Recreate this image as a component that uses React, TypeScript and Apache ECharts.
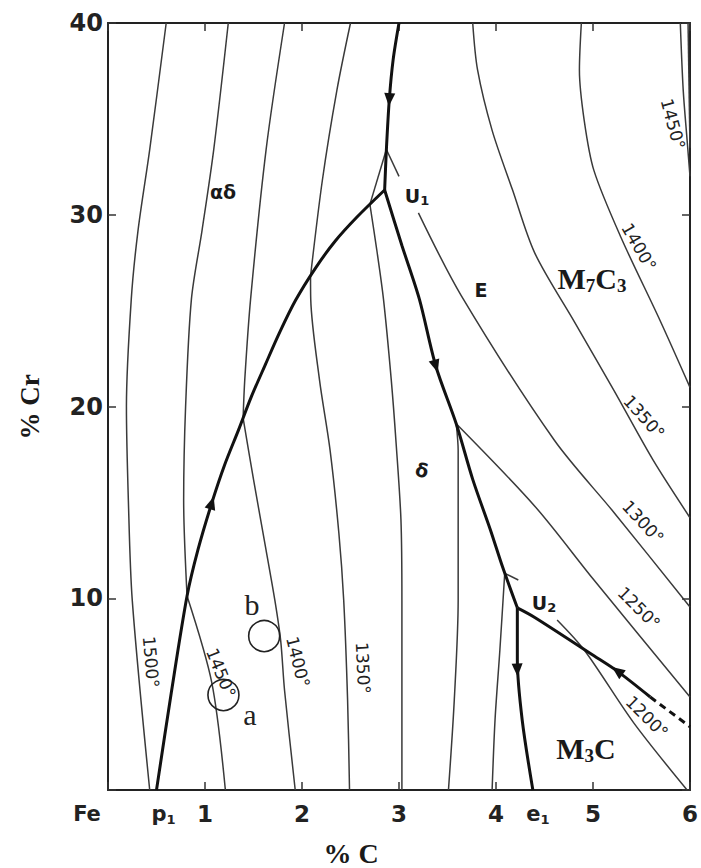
import React, { useEffect, useRef } from 'react';
import * as echarts from 'echarts';

// ---- data (x = % C, y = % Cr) ----
const xTicks = [0, 1, 2, 3, 4, 5, 6];
const yTicks = [0, 10, 20, 30, 40];

// heavy monovariant lines
const heavyP1U1 = [[0.5, 0], [0.652, 5.06], [0.815, 10.12], [0.927, 12.52], [1.07, 14.97], [1.202, 16.95], [1.345, 18.77], [1.477, 20.5], [1.62, 22.16], [1.772, 23.89], [1.935, 25.55], [2.139, 27.22], [2.343, 28.63], [2.567, 29.88], [2.852, 31.29]];
const heavyTopU1 = [[3.0, 40], [2.94, 38.1], [2.9, 36.0], [2.87, 33.4], [2.852, 31.29]];
const heavyU1U2 = [[2.852, 31.29], [3.03, 28.4], [3.21, 25.6], [3.38, 22.1], [3.59, 19.1], [3.76, 16.2], [3.94, 13.6], [4.07, 11.6], [4.22, 9.5]];
const heavyU2E1 = [[4.22, 9.5], [4.22, 6.8], [4.27, 3.65], [4.38, 0]];
const heavyU2Right = [[4.22, 9.5], [4.4, 9.0], [5.01, 7.0], [5.25, 6.2], [5.59, 4.85]];
const heavyDashed = [[5.59, 4.85], [6.0, 3.3]];

// liquidus isotherms
const iso1500 = [[0.6, 40], [0.43, 33.4], [0.31, 29.2], [0.24, 25.6], [0.19, 20.0], [0.21, 15.1], [0.25, 9.9], [0.43, 0]];
const iso1450Delta = [[1.24, 40], [1.09, 33.4], [0.97, 29.2], [0.86, 25.6], [0.8, 20.0], [0.78, 15.1], [0.815, 10.12]];
const iso1450Gamma = [[0.815, 10.12], [1.07, 5.6], [1.21, 0]];
const iso1400Delta = [[1.82, 40], [1.63, 33.4], [1.47, 25.6], [1.41, 21.4], [1.393, 19.4]];
const iso1400Gamma = [[1.393, 19.4], [1.5, 16.2], [1.63, 12.5], [1.72, 9.9], [1.78, 7.8], [1.82, 5.2], [1.93, 0]];
const iso1350Delta = [[2.5, 40], [2.36, 36.5], [2.21, 31.8], [2.088, 26.8]];
const iso1350Gamma = [[2.088, 26.8], [2.09, 25.6], [2.18, 21.4], [2.29, 17.7], [2.38, 13.4], [2.43, 9.9], [2.47, 4.7], [2.49, 0]];
const iso1300Tri = [[2.87, 33.4], [2.7, 30.54]];
const iso1300Spur = [[2.87, 33.4], [3.0, 32.0]];
const iso1300Gamma = [[2.7, 30.54], [2.77, 28.2], [2.84, 25.6], [2.92, 21.4], [2.97, 18.1], [3.02, 14.1], [3.03, 9.9], [3.03, 0]];
const iso1250Gamma = [[3.59, 19.1], [3.61, 17.7], [3.61, 9.9], [3.57, 4.7], [3.51, 0]];
const iso1200Gamma = [[4.09, 11.3], [4.04, 7.3], [3.99, 3.65], [3.96, 0]];
const iso1200Spur = [[4.09, 11.3], [4.23, 10.95]];
const iso1200Carbide = [[4.63, 8.87], [4.91, 7.3], [5.42, 3.5], [5.97, 0]];
const iso1250Carbide = [[3.59, 19.1], [4.4, 14.8], [5.01, 10.95], [6.0, 4.85]];
const iso1300Carbide = [[3.2, 30.1], [3.64, 25.8], [4.6, 18.25], [5.22, 14.45], [6.0, 9.54]];
const iso1350Carbide = [[3.76, 40], [3.81, 37.55], [3.96, 34.4], [4.17, 31.3], [4.4, 28.0], [4.81, 24.4], [5.22, 20.8], [5.62, 17.2], [6.0, 14.2]];
const iso1400Carbide = [[4.88, 40], [4.86, 37.55], [4.91, 34.9], [5.01, 32.3], [5.29, 28.8], [5.69, 24.5], [6.0, 21.0]];
const iso1450Carbide = [[5.9, 40], [5.93, 36.5], [5.97, 33.9], [6.0, 32.0]];
const iso1450CarbideB = [[5.98, 40], [6.0, 33.5]];

// arrow heads on the monovariant lines
const arrowPoints = [[2.9, 36.0], [1.07, 14.97], [3.38, 22.1], [4.22, 6.26], [5.25, 6.21]];
const arrowAngles = [176, -17, 197, 182, 54];

// experimental alloys a and b
const alloyPoints = [[1.19, 4.95, 'a'], [1.61, 8.03, 'b']];

// special points on the Fe-C side
const sidePoints = [[0, 'Fe'], [0.5, 'p1'], [4.38, 'e1']];

export default function App() {
  const ref = useRef<HTMLDivElement>(null);

  useEffect(() => {
    const chart = echarts.init(ref.current!, null, { renderer: 'svg' });

    const HEAVY = { color: '#111', width: 3 };
    const THIN = { color: '#3a3a3a', width: 1.5 };
    const ln = (data: number[][], style: any, extra: any = {}) => ({
      type: 'line', data, symbol: 'none', smooth: 0.3, silent: true,
      lineStyle: { ...style }, z: 2, ...extra,
    });

    const thinSets = [iso1500, iso1450Delta, iso1450Gamma, iso1400Delta, iso1400Gamma, iso1350Delta, iso1350Gamma,
      iso1300Tri, iso1300Spur, iso1300Gamma, iso1250Gamma, iso1200Gamma, iso1200Spur, iso1200Carbide,
      iso1250Carbide, iso1300Carbide, iso1350Carbide, iso1400Carbide, iso1450Carbide, iso1450CarbideB];
    const heavySets = [heavyP1U1, heavyTopU1, heavyU1U2, heavyU2E1, heavyU2Right];

    const sideOffsets: Record<string, number[]> = { Fe: [-21, 0], p1: [7, 0], e1: [5, 0] };
    const sideText: Record<string, string> = { Fe: '{m|Fe}', p1: '{m|p}{s|1}', e1: '{m|e}{s|1}' };

    const axisFont = { fontFamily: 'DejaVu Sans', fontWeight: 'bold', color: '#222' };
    const frame = { show: true, onZero: false, lineStyle: { color: '#222', width: 2 } };
    const tick = { show: true, inside: true, length: 8, lineStyle: { color: '#333', width: 1.5 } };

    const isoLabel = (text: string, x: number, y: number, deg: number) => ({
      type: 'text', x, y, rotation: -deg * Math.PI / 180, silent: true, z: 10,
      style: { text, fill: '#222', font: '17px "DejaVu Sans"', align: 'center', verticalAlign: 'middle', textAlign: 'center', textVerticalAlign: 'middle' },
    });
    const richLabel = (x: number, y: number, text: string, rich: any, rot = 0) => ({
      type: 'text', x, y, rotation: rot, silent: true, z: 10,
      style: { text, rich, fill: '#1a1a1a', align: 'center', verticalAlign: 'middle', textAlign: 'center', textVerticalAlign: 'middle' },
    });
    const serifRich = {
      m: { fontFamily: 'Liberation Serif', fontWeight: 'bold', fontSize: 30, lineHeight: 34, fill: '#1a1a1a' },
      s: { fontFamily: 'Liberation Serif', fontWeight: 'bold', fontSize: 19, lineHeight: 19, verticalAlign: 'bottom', fill: '#1a1a1a' },
    };
    const sansRich = {
      m: { fontFamily: 'DejaVu Sans', fontWeight: 'bold', fontSize: 19, lineHeight: 22, fill: '#1a1a1a' },
      s: { fontFamily: 'DejaVu Sans', fontWeight: 'bold', fontSize: 13, lineHeight: 13, verticalAlign: 'bottom', fill: '#1a1a1a' },
    };

    const option: any = {
      animation: false,
      backgroundColor: '#fff',
      grid: { left: 108, right: 4, top: 23, bottom: 78, containLabel: false },
      xAxis: [
        {
          type: 'value', min: xTicks[0], max: xTicks[xTicks.length - 1], interval: 1, position: 'bottom',
          axisLine: frame, axisTick: tick, splitLine: { show: false },
          axisLabel: { ...axisFont, fontSize: 23, margin: 12, formatter: (v: number) => (v === 0 ? '' : String(v)) },
        },
        {
          type: 'value', min: xTicks[0], max: xTicks[xTicks.length - 1], interval: 1, position: 'top',
          axisLine: frame, axisTick: tick, splitLine: { show: false }, axisLabel: { show: false },
        },
      ],
      yAxis: [
        {
          type: 'value', min: yTicks[0], max: yTicks[yTicks.length - 1], interval: 10, position: 'left',
          axisLine: frame, axisTick: tick, splitLine: { show: false },
          axisLabel: { ...axisFont, fontSize: 24, margin: 5, formatter: (v: number) => (v === 0 ? '' : String(v)) },
        },
        {
          type: 'value', min: yTicks[0], max: yTicks[yTicks.length - 1], interval: 10, position: 'right',
          axisLine: frame, axisTick: tick, splitLine: { show: false }, axisLabel: { show: false },
        },
      ],
      series: [
        ...thinSets.map((d) => ln(d, THIN)),
        ...heavySets.map((d) => ln(d, HEAVY, { z: 3 })),
        ln(heavyDashed, { ...HEAVY, type: [7, 5] }, { z: 3, smooth: false }),
        {
          type: 'scatter', silent: true, z: 4, symbol: 'triangle', symbolSize: [11, 13],
          itemStyle: { color: '#111', opacity: 1 },
          data: arrowPoints.map((p, i) => ({ value: p, symbolRotate: arrowAngles[i] })),
        },
        {
          type: 'scatter', silent: true, z: 4, symbol: 'circle', symbolSize: 31,
          itemStyle: { color: 'rgba(0,0,0,0)', borderColor: '#222', borderWidth: 1.6, opacity: 1 },
          data: alloyPoints.map((p) => ({ value: [p[0], p[1]], name: p[2] })),
        },
        {
          type: 'scatter', silent: true, z: 4, symbolSize: 0, clip: false,
          itemStyle: { opacity: 1 },
          data: sidePoints.map((p) => ({
            value: [p[0], 0], name: p[1] as string,
            label: { show: true, position: 'bottom', distance: 12, offset: sideOffsets[p[1] as string], formatter: sideText[p[1] as string] },
          })),
          label: {
            show: true, color: '#222',
            rich: {
              m: { fontFamily: 'DejaVu Sans', fontWeight: 'bold', fontSize: 21, lineHeight: 24, color: '#222' },
              s: { fontFamily: 'DejaVu Sans', fontWeight: 'bold', fontSize: 13, lineHeight: 13, verticalAlign: 'bottom', color: '#222' },
            },
          },
        },
      ],
      graphic: [
        { type: 'text', x: 30, y: 407, rotation: Math.PI / 2, silent: true, style: { text: '% Cr', fill: '#1a1a1a', font: 'bold 27px "Liberation Serif"', align: 'center', verticalAlign: 'middle', textAlign: 'center', textVerticalAlign: 'middle' } },
        { type: 'text', x: 351, y: 853, silent: true, style: { text: '% C', fill: '#1a1a1a', font: 'bold 28px "Liberation Serif"', align: 'center', verticalAlign: 'middle', textAlign: 'center', textVerticalAlign: 'middle' } },
        isoLabel('1500°', 151, 662, 85),
        isoLabel('1450°', 221, 673, 68),
        isoLabel('1400°', 298, 662, 76),
        isoLabel('1350°', 363, 668, 87),
        isoLabel('1450°', 673, 124, 75),
        isoLabel('1400°', 639, 247, 60),
        isoLabel('1350°', 644, 417, 48),
        isoLabel('1300°', 643, 522, 47),
        isoLabel('1250°', 639, 608, 45),
        isoLabel('1200°', 647, 717, 45),
        richLabel(223, 192, '{m|αδ}', sansRich),
        richLabel(417, 196, '{m|U}{s|1}', sansRich),
        richLabel(544, 603, '{m|U}{s|2}', sansRich),
        richLabel(481, 290, '{m|E}', sansRich),
        richLabel(422, 470, '{m|δ}', sansRich, -0.25),
        richLabel(592, 278, '{m|M}{s|7}{m|C}{s|3}', serifRich),
        richLabel(586, 748, '{m|M}{s|3}{m|C}', serifRich),
        { type: 'text', x: 250, y: 714, silent: true, style: { text: 'a', fill: '#222', font: '30px "Liberation Serif"', align: 'center', verticalAlign: 'middle', textAlign: 'center', textVerticalAlign: 'middle' } },
        { type: 'text', x: 252, y: 604, silent: true, style: { text: 'b', fill: '#222', font: '30px "Liberation Serif"', align: 'center', verticalAlign: 'middle', textAlign: 'center', textVerticalAlign: 'middle' } },
      ],
    };

    chart.setOption(option);
    return () => chart.dispose();
  }, []);

  return <div ref={ref} style={{ position: 'fixed', left: 0, top: 0, width: 701, height: 868, background: '#fff' }} />;
}
